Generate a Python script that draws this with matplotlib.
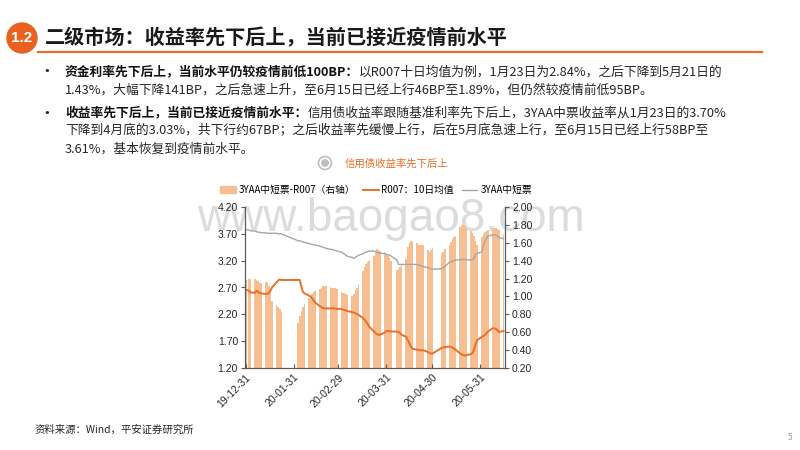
import matplotlib
matplotlib.use("Agg")
import numpy as np
import pandas as pd
import matplotlib.pyplot as plt
from matplotlib.patches import Circle, Patch
from matplotlib.lines import Line2D

plt.rcParams['font.family'] = ['Noto Sans CJK SC', 'DejaVu Sans']
LATIN = ['Liberation Sans', 'Noto Sans CJK SC']

ORANGE = "#E8702A"
BAR_COLOR = "#F7BE92"
GRAY = "#A6A6A6"
TEXT = "#262626"

# trading days (non-trading holidays dropped)
HOLIDAYS = ["2020-01-01", "2020-01-24", "2020-01-27", "2020-01-28",
            "2020-01-29", "2020-01-30", "2020-01-31", "2020-04-06",
            "2020-05-01", "2020-05-04", "2020-05-05"]
dates = pd.bdate_range("2019-12-31", "2020-06-15")
dates = dates[~dates.isin(pd.to_datetime(HOLIDAYS))]

# 3YAA中短票 - R007, right axis
spread = [
    1.18,
    1.19, 1.20, 1.19, 1.18, 1.17, 1.15, 1.15, 1.16, 1.15, 1.12, 1.05, 0.95,
    0.90, 0.88, 0.86, 0.83,
    0.70, 0.78, 0.84, 0.88, 0.92, 0.98, 1.00, 1.03, 1.05, 1.06,
    1.08, 1.10, 1.12, 1.12, 1.12, 1.11, 1.10, 1.09, 1.10, 1.08,
    1.05, 1.04, 1.04, 1.03, 1.02, 1.00, 1.03, 1.07, 1.10, 1.14,
    1.28, 1.33, 1.36, 1.38, 1.40, 1.45, 1.50, 1.53, 1.52, 1.51, 1.50, 1.47,
    1.45, 1.43, 1.40, 1.30, 1.31, 1.33, 1.35, 1.42, 1.55, 1.60, 1.62, 1.61,
    1.60, 1.58, 1.57, 1.58, 1.58, 1.52, 1.50, 1.52, 1.54,
    1.47, 1.50, 1.53, 1.58, 1.61, 1.64, 1.66, 1.68, 1.78, 1.80, 1.80, 1.79,
    1.77, 1.73, 1.71, 1.68, 1.62, 1.58,
    1.66, 1.70, 1.72, 1.73, 1.74, 1.77, 1.77, 1.76, 1.75, 1.74, 1.70,
]
# R007: 10-day average, left axis
r007 = [
    2.66,
    2.64, 2.61, 2.60, 2.64, 2.62, 2.60, 2.59, 2.58, 2.58, 2.60, 2.64, 2.70,
    2.80, 2.83, 2.85, 2.84,
    2.84, 2.84, 2.72, 2.62, 2.59, 2.55, 2.53, 2.50, 2.46, 2.42,
    2.35, 2.33, 2.32, 2.31, 2.31, 2.31, 2.31, 2.31, 2.31, 2.30,
    2.30, 2.29, 2.28, 2.27, 2.26, 2.24, 2.23, 2.22, 2.21, 2.19,
    2.13, 2.10, 2.06, 2.02, 1.97, 1.88, 1.85, 1.83, 1.82, 1.82, 1.86, 1.89,
    1.89, 1.89, 1.88, 1.88, 1.87, 1.85, 1.82, 1.78, 1.72, 1.66, 1.60, 1.56,
    1.54, 1.54, 1.53, 1.53, 1.53, 1.50, 1.48, 1.47, 1.47,
    1.575, 1.58, 1.59, 1.60, 1.59, 1.58, 1.56, 1.54, 1.47, 1.45, 1.44, 1.43,
    1.44, 1.46, 1.48, 1.55, 1.65, 1.72,
    1.78, 1.80, 1.81, 1.85, 1.88, 1.94, 1.94, 1.93, 1.91, 1.87, 1.89,
]
# 3YAA中短票, left axis
yaa = [
    3.78,
    3.77, 3.76, 3.75, 3.74, 3.73, 3.73, 3.72, 3.72, 3.71, 3.71, 3.71, 3.71,
    3.71, 3.70, 3.70, 3.70,
    3.57, 3.57, 3.56, 3.55, 3.54, 3.52, 3.51, 3.50, 3.50, 3.49,
    3.47, 3.46, 3.45, 3.44, 3.43, 3.41, 3.41, 3.40, 3.39, 3.38,
    3.36, 3.34, 3.32, 3.30, 3.28, 3.26, 3.245, 3.26, 3.28, 3.30,
    3.33, 3.35, 3.36, 3.37, 3.38, 3.38, 3.37, 3.35, 3.35, 3.34, 3.33, 3.32,
    3.31, 3.30, 3.29, 3.21, 3.13, 3.13, 3.13, 3.13, 3.13, 3.13, 3.13, 3.13,
    3.13, 3.12, 3.11, 3.10, 3.09, 3.07, 3.06, 3.05, 3.04,
    3.05, 3.07, 3.09, 3.17, 3.18, 3.19, 3.20, 3.21, 3.22, 3.22, 3.22, 3.22,
    3.22, 3.21, 3.22, 3.25, 3.32, 3.34,
    3.36, 3.48, 3.56, 3.62, 3.66, 3.68, 3.68, 3.68, 3.66, 3.63, 3.61,
]

LEFT_TICKS = [1.20, 1.70, 2.20, 2.70, 3.20, 3.70, 4.20]
RIGHT_TICKS = [0.20, 0.40, 0.60, 0.80, 1.00, 1.20, 1.40, 1.60, 1.80, 2.00]
DATE_TICKS = ["2019-12-31", "2020-01-31", "2020-02-29", "2020-03-31",
              "2020-04-30", "2020-05-31"]

TITLE = "二级市场：收益率先下后上，当前已接近疫情前水平"
BULLETS = [
    ("资金利率先下后上，当前水平仍较疫情前低100BP：",
     "以R007十日均值为例，1月23日为2.84%，之后下降到5月21日的",
     ["1.43%，大幅下降141BP，之后急速上升，至6月15日已经上行46BP至1.89%，但仍然较疫情前低95BP。"]),
    ("收益率先下后上，当前已接近疫情前水平：",
     "信用债收益率跟随基准利率先下后上，3YAA中票收益率从1月23日的3.70%",
     ["下降到4月底的3.03%，共下行约67BP；之后收益率先缓慢上行，后在5月底急速上行，至6月15日已经上行58BP至",
      "3.61%，基本恢复到疫情前水平。"]),
]

fig = plt.figure(figsize=(8, 4.5), dpi=100)

# page layer in pixel coordinates
page = fig.add_axes([0, 0, 1, 1])
page.set_xlim(0, 800)
page.set_ylim(450, 0)
page.axis("off")
page.set_zorder(-1)

page.add_patch(Circle((22, 38), 15, color="#E8611F"))
page.text(22, 38.5, "1.2", color="white", fontsize=11, fontweight="bold",
          ha="center", va="center", family=LATIN)
page.text(45, 38, TITLE, fontsize=14.5, fontweight="bold", color="#1A1A1A",
          va="center")
page.plot([38, 762], [52, 52], color=ORANGE, lw=1.6)

y = 72
for bold, rest, more in BULLETS:
    page.text(38, y, "•", fontsize=12, color=TEXT, va="center")
    t1 = page.text(65, y, bold, fontsize=9.2, fontweight="bold", color="#111111",
                   va="center")
    page.annotate(rest, xy=(1, 0.5), xycoords=t1, fontsize=9.2, color=TEXT,
                  va="center")
    for line in more:
        y += 18
        page.text(65, y, line, fontsize=9.2, color=TEXT, va="center")
    y += 23

page.add_patch(Circle((325, 163), 6.5, fill=False, ec="#BFBFBF", lw=1.2))
page.add_patch(Circle((325, 163), 3.2, color="#BFBFBF"))
page.text(345, 163.5, "信用债收益率先下后上", fontsize=7.5, color=ORANGE,
          va="center")

page.text(391, 231, "www.baogao8.com", fontsize=33, color="#DCDCDC",
          ha="center", va="baseline", family=LATIN)

page.text(35, 430, "资料来源：Wind，平安证券研究所", fontsize=7.5, color=TEXT,
          va="center")
page.text(790, 438, "5", fontsize=6, color="#999999", va="center", ha="center")

# chart
ax = fig.add_axes([245 / 800, 82 / 450, 260 / 800, 161 / 450])
ax2 = ax.twinx()
ax.set_zorder(ax2.get_zorder() + 1)
ax.patch.set_visible(False)
ax2.patch.set_visible(False)

ax2.bar(dates, spread, width=1.05, color=BAR_COLOR, linewidth=0)
ax.plot(dates, yaa, color=GRAY, lw=1.0)
ax.plot(dates, r007, color=ORANGE, lw=1.4)

ax.set_ylim(1.2, 4.2)
ax2.set_ylim(0.2, 2.0)
ax.set_xlim(pd.Timestamp("2019-12-30 12:00"), pd.Timestamp("2020-06-16"))

ax.set_yticks(LEFT_TICKS, [f"{v:.2f}" for v in LEFT_TICKS])
ax2.set_yticks(RIGHT_TICKS, [f"{v:.2f}" for v in RIGHT_TICKS])
xt = pd.to_datetime(DATE_TICKS)
ax.set_xticks(xt, [d.strftime("%y-%m-%d") for d in xt], rotation=45,
              ha="right", rotation_mode="anchor")

for a in (ax, ax2):
    for s in a.spines.values():
        s.set_color("#595959")
        s.set_linewidth(0.8)
    a.spines["top"].set_visible(False)
    for lab in a.get_xticklabels() + a.get_yticklabels():
        lab.set_family(LATIN)
        lab.set_fontsize(7.5)
        lab.set_color(TEXT)
ax.tick_params(axis="y", direction="out", length=3, width=0.8, colors="#595959",
               labelcolor=TEXT, pad=2)
ax2.tick_params(axis="y", direction="out", length=3, width=0.8, colors="#595959",
                labelcolor=TEXT, pad=2)
ax.tick_params(axis="x", direction="in", length=3, width=0.8, colors="#595959",
               labelcolor=TEXT, pad=3)

handles = [
    Patch(color=BAR_COLOR),
    Line2D([], [], color=ORANGE, lw=1.4),
    Line2D([], [], color=GRAY, lw=1.0),
]
labels = ["3YAA中短票-R007（右轴）", "R007：10日均值", "3YAA中短票"]
fig.legend(handles, labels, loc="center", bbox_to_anchor=(376 / 800, 1 - 190 / 450),
           ncol=3, frameon=False, fontsize=7, handlelength=1.6,
           handleheight=0.6, columnspacing=0.8, handletextpad=0.3)

fig.savefig("out.png", dpi=100)
